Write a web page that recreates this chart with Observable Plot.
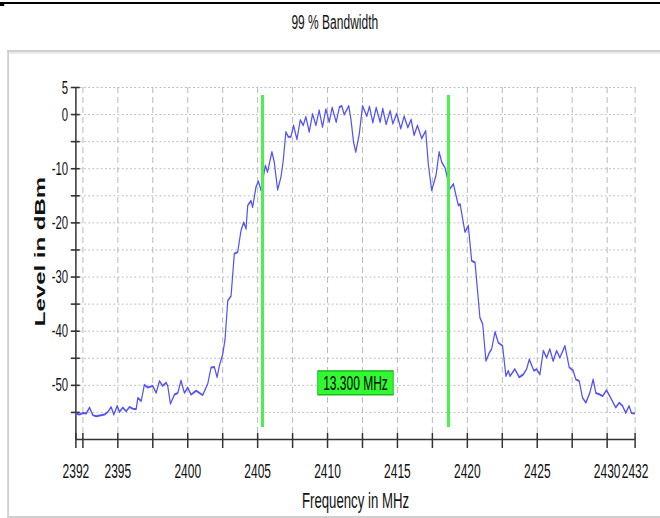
<!DOCTYPE html>
<html><head><meta charset="utf-8">
<script src="https://cdn.jsdelivr.net/npm/d3@7"></script>
<script src="https://cdn.jsdelivr.net/npm/@observablehq/plot@0.6"></script>
<style>
html,body{margin:0;padding:0;background:#fff;overflow:hidden;width:660px;height:518px;}
#wrap{position:absolute;left:0;top:0;width:1100px;height:518px;transform:scaleX(0.6);transform-origin:0 0;font-family:"Liberation Sans",Arial,sans-serif;}
#topline{position:absolute;left:0;top:2px;width:1100px;height:2px;background:#000;}
#topnub{position:absolute;left:0;top:3px;width:7px;height:3px;background:#000;}
#title{position:absolute;left:8px;top:11px;width:1100px;text-align:center;font-size:20px;color:#111;}
#panel{position:absolute;left:12px;top:50px;width:1100px;height:468px;box-sizing:border-box;border:2px solid #cfcfcf;border-left:3px solid #cfcfcf;border-right:none;background:#fff;box-shadow:inset 0 2px 0 #ececec;}
#chart{position:absolute;left:0;top:53px;}
</style>
</head><body>
<div id="wrap">
  <div id="topline"></div><div id="topnub"></div>
  <div id="title">99 % Bandwidth</div>
  <div id="panel"></div>
  <div id="chart"></div>
</div>
<script>
// Spectrum trace (MHz, dBm)
const freq = [2392.00,2392.26,2392.50,2392.74,2392.98,2393.21,2393.45,2394.05,2394.29,2394.52,2394.71,2394.95,2395.12,2395.36,2395.60,2395.83,2396.07,2396.31,2396.43,2396.67,2396.90,2397.14,2397.50,2397.74,2397.98,2398.21,2398.45,2398.57,2398.76,2399.05,2399.29,2399.52,2399.76,2400.00,2400.24,2400.60,2401.07,2401.43,2401.67,2401.90,2402.10,2402.26,2402.50,2402.67,2402.86,2403.10,2403.33,2403.57,2403.81,2404.00,2404.17,2404.29,2404.52,2404.64,2404.88,2405.05,2405.24,2405.55,2405.71,2406.02,2406.19,2406.43,2406.67,2406.83,2407.02,2407.19,2407.38,2407.57,2407.81,2408.05,2408.26,2408.45,2408.69,2408.93,2409.17,2409.40,2409.64,2409.88,2410.12,2410.33,2410.62,2410.85,2411.02,2411.19,2411.52,2411.68,2411.86,2412.02,2412.27,2412.50,2412.81,2413.00,2413.24,2413.48,2413.76,2413.95,2414.19,2414.48,2414.67,2414.95,2415.24,2415.48,2415.74,2415.98,2416.19,2416.43,2416.74,2417.02,2417.21,2417.45,2417.76,2417.98,2418.17,2418.40,2418.76,2419.00,2419.36,2419.48,2419.83,2420.07,2420.31,2420.55,2420.90,2421.10,2421.33,2421.57,2421.74,2421.98,2422.21,2422.52,2422.76,2422.93,2423.05,2423.40,2423.71,2424.00,2424.24,2424.43,2424.76,2424.95,2425.19,2425.43,2425.67,2425.90,2426.14,2426.38,2426.62,2426.98,2427.29,2427.57,2427.76,2428.00,2428.24,2428.48,2428.76,2429.00,2429.19,2429.48,2429.67,2429.95,2430.19,2430.43,2430.62,2430.86,2431.10,2431.33,2431.57,2431.74,2431.95];
const level = [-55.2,-55.4,-55.1,-55.2,-54.1,-55.5,-55.7,-55.4,-54.9,-54.0,-55.4,-53.8,-54.9,-54.1,-54.8,-54.0,-54.3,-54.4,-52.3,-52.9,-49.9,-50.4,-50.1,-51.4,-49.2,-50.1,-49.5,-50.1,-53.4,-51.7,-51.4,-49.1,-51.4,-50.4,-51.7,-51.0,-51.8,-49.7,-46.7,-46.6,-48.5,-46.4,-44.3,-41.5,-34.4,-33.5,-25.7,-25.4,-21.4,-19.9,-21.1,-16.8,-15.9,-17.1,-13.4,-12.3,-14.0,-9.4,-10.6,-6.9,-8.8,-13.9,-11.5,-8.5,-3.2,-4.1,-4.1,-2.0,-4.6,-1.0,-2.0,-0.4,-3.2,0.1,-2.0,0.8,-2.3,1.0,-1.4,1.3,-1.4,1.4,1.6,0.0,1.6,-1.0,-5.1,-6.9,-3.6,1.6,-0.3,1.5,-1.5,1.3,-1.4,1.1,-1.8,0.7,-1.7,0.2,-2.6,-0.3,-2.4,-0.9,-3.8,-2.0,-4.4,-3.0,-9.2,-14.0,-11.2,-6.9,-8.8,-9.8,-13.7,-12.8,-16.8,-16.5,-21.7,-20.5,-27.0,-27.3,-37.5,-38.7,-45.5,-44.0,-43.3,-40.1,-42.1,-42.7,-48.3,-47.3,-48.3,-47.0,-48.5,-48.0,-47.0,-45.2,-47.3,-47.0,-48.0,-43.6,-44.9,-43.3,-45.5,-43.6,-44.9,-42.7,-46.7,-47.3,-48.9,-49.2,-52.3,-53.2,-51.4,-48.9,-51.4,-51.7,-52.0,-50.9,-52.0,-53.2,-54.1,-53.2,-53.8,-55.1,-53.8,-55.1,-55.2];

// 99 % bandwidth edges (MHz) and label placement
const bwEdges = [2405.35, 2418.65];
const bwLabelAt = {freq: 2412.0, level: -49.7};
const bwMarkerRange = [3.5, -57.8];

// Axes
const xDomain = [2392, 2432];
const yDomain = [-60, 5];
const xTitle = "Frequency in MHz";
const yTitle = "Level in dBm";
const xLabelTicks = [2392, 2395, 2400, 2405, 2410, 2415, 2420, 2425, 2430, 2432];
const xMinorTicks = [2392, 2392.5, 2395, 2397.5, 2400, 2402.5, 2405, 2407.5, 2410, 2412.5, 2415, 2417.5, 2420, 2422.5, 2425, 2427.5, 2430, 2432];
const xGrid = [2392.5, 2395, 2397.5, 2400, 2402.5, 2405, 2407.5, 2410, 2412.5, 2415, 2417.5, 2420, 2422.5, 2425, 2427.5, 2430, 2432];
const yLabelTicks = [5, 0, -10, -20, -30, -40, -50];
const yMinorTicks = [5, 0, -5, -10, -15, -20, -25, -30, -35, -40, -45, -50, -55];
const yGrid = [5, 0, -5, -10, -15, -20, -25, -30, -35, -40, -45, -50, -55];

const data = freq.map((f, i) => ({freq: f, level: level[i]}));
const bwText = (bwEdges[1] - bwEdges[0]).toFixed(3) + " MHz";

const chart = Plot.plot({
  width: 1100, height: 464,
  marginLeft: 126, marginRight: 42, marginTop: 34, marginBottom: 78,
  x: {domain: xDomain},
  y: {domain: yDomain},
  style: {fontFamily: '"Liberation Sans", Arial, sans-serif', fontSize: "18px", color: "#111", background: "transparent", overflow: "visible"},
  marks: [
    Plot.gridY(yGrid, {stroke: "#a9a9a9", strokeOpacity: 1, strokeWidth: 1, strokeDasharray: "3,4"}),
    Plot.gridX(xGrid, {stroke: "#bbbbbb", strokeOpacity: 1, strokeWidth: 1.7, strokeDasharray: "6,4"}),
    Plot.ruleY([yDomain[0]], {stroke: "#333", strokeWidth: 1.6}),
    Plot.ruleX([xDomain[0]], {stroke: "#333", strokeWidth: 2.5}),
    Plot.ruleX(xMinorTicks, {y1: yDomain[0], y2: yDomain[0], insetTop: -6, insetBottom: -9, stroke: "#333", strokeWidth: 2.5}),
    Plot.ruleY(yMinorTicks, {x1: xDomain[0], x2: xDomain[0], insetLeft: -8, insetRight: -7, stroke: "#333", strokeWidth: 1.6}),
    Plot.axisX(xLabelTicks, {tickSize: 0, tickPadding: 24, fontSize: 20, tickFormat: d => String(d), label: null}),
    Plot.axisX([], {label: xTitle, labelAnchor: "center", labelOffset: 68, fontSize: 22, labelArrow: "none"}),
    Plot.axisY(yLabelTicks, {tickSize: 0, tickPadding: 13, fontSize: 19, tickFormat: d => String(d), label: null}),
    Plot.text([yTitle], {frameAnchor: "left", rotate: -90, dx: -59, dy: -12, text: d => d, fontSize: 24, fontWeight: "bold", fill: "#111", textAnchor: "middle", lineAnchor: "middle"}),
    Plot.line(data, {x: "freq", y: "level", stroke: "#5252f8", strokeWidth: 2}),
    Plot.ruleX(bwEdges, {y1: bwMarkerRange[0], y2: bwMarkerRange[1], stroke: "#4cf04c", strokeWidth: 5}),
    Plot.text([bwText], {x: bwLabelAt.freq, y: bwLabelAt.level, text: d => d, fontSize: 20, fill: "#000"})
  ]
});
document.getElementById("chart").append(chart);

// green box behind the bandwidth label
const t = Array.from(chart.querySelectorAll("text")).find(e => e.textContent === bwText);
if (t) {
  const bb = t.getBBox();
  const ns = "http://www.w3.org/2000/svg";
  const r = document.createElementNS(ns, "rect");
  r.setAttribute("x", bb.x - 9); r.setAttribute("y", bb.y - 1);
  r.setAttribute("width", bb.width + 18); r.setAttribute("height", bb.height + 2);
  r.setAttribute("fill", "#30fa30"); r.setAttribute("stroke", "#22b522"); r.setAttribute("stroke-width", "1.5");
  const tr = t.getAttribute("transform");
  if (tr) r.setAttribute("transform", tr);
  t.parentNode.insertBefore(r, t);
}
</script>
</body></html>
